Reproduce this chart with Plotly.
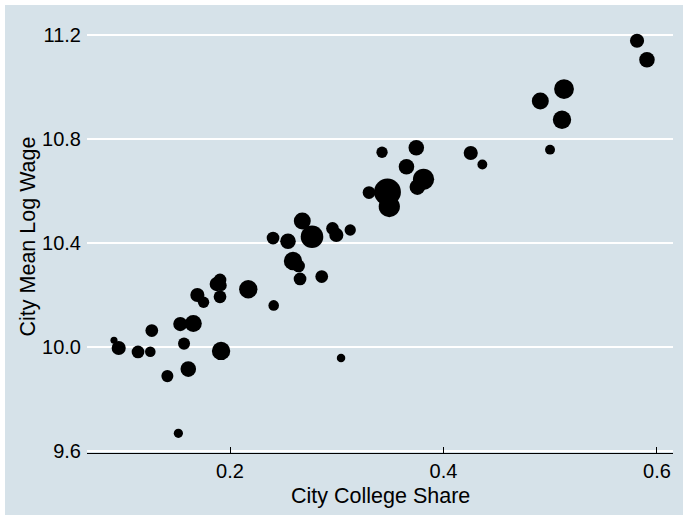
import plotly.graph_objects as go

# City-level averages: share of college-educated workers vs. mean log wage,
# marker area proportional to city population weight.
college_share = [
    0.0913, 0.0957, 0.1138, 0.1253, 0.1267, 0.1413, 0.1516, 0.1534,
    0.1656, 0.1569, 0.1609, 0.1916, 0.1694, 0.1752, 0.1906, 0.1906,
    0.1875, 0.1916, 0.2171, 0.2409, 0.2656, 0.2859, 0.2590, 0.2642,
    0.2403, 0.2543, 0.2768, 0.2677, 0.2960, 0.2996, 0.3126, 0.3040,
    0.3302, 0.3424, 0.3475, 0.3492, 0.3653, 0.3745, 0.3813, 0.3755,
    0.4255, 0.4364, 0.4998, 0.4907, 0.5110, 0.5129, 0.5813, 0.5906,
]
mean_log_wage = [
    10.026, 9.996, 9.981, 9.982, 10.063, 9.888, 9.668, 10.088,
    10.090, 10.013, 9.915, 9.985, 10.200, 10.172, 10.193, 10.258,
    10.242, 10.237, 10.222, 10.160, 10.262, 10.271, 10.331, 10.312,
    10.419, 10.407, 10.424, 10.485, 10.456, 10.431, 10.450, 9.958,
    10.594, 10.749, 10.596, 10.540, 10.693, 10.766, 10.645, 10.615,
    10.746, 10.702, 10.759, 10.946, 10.874, 10.992, 11.178, 11.105,
]
pop_weight = [
    1.00, 4.00, 3.24, 2.25, 3.24, 2.90, 1.70, 4.00,
    5.76, 2.90, 4.84, 6.76, 4.00, 2.56, 3.24, 3.24,
    4.00, 2.56, 6.76, 2.25, 3.24, 3.24, 6.76, 3.24,
    3.24, 4.84, 10.24, 5.76, 3.24, 4.00, 2.56, 1.44,
    3.24, 2.56, 14.44, 9.00, 4.84, 4.84, 9.00, 4.84,
    4.00, 1.96, 1.96, 5.76, 6.76, 7.84, 4.00, 4.84,
]

x_ticks = [0.2, 0.4, 0.6]
x_tick_labels = ["0.2", "0.4", "0.6"]
y_ticks = [9.6, 10.0, 10.4, 10.8, 11.2]
y_tick_labels = ["9.6", "10.0", "10.4", "10.8", "11.2"]

BG = "rgb(214,226,233)"
FONT = "Liberation Sans, Arial, Helvetica, sans-serif"

fig = go.Figure(
    go.Scatter(
        x=college_share,
        y=mean_log_wage,
        mode="markers",
        marker=dict(
            size=pop_weight,
            sizemode="area",
            sizeref=0.04,
            color="black",
            line=dict(width=0),
            opacity=1,
        ),
        hoverinfo="x+y",
    )
)

W, H = 683, 515
ml, mr, mt, mb = 87, 10, 20, 62
pw, ph = W - ml - mr, H - mt - mb

# Graph region fill with a thin white border along the top and left edges
fig.add_shape(
    type="rect", xref="paper", yref="paper",
    x0=-(ml - 5) / pw, x1=1 + (mr + 20) / pw,
    y0=-(mb + 20) / ph, y1=1 + (mt - 5) / ph,
    fillcolor=BG, line=dict(width=0), layer="below",
)

# x-axis title sits tight under the tick labels
fig.add_annotation(
    text="City College Share",
    xref="paper", yref="paper",
    x=0.5, y=-(496 - (H - mb)) / ph,
    xanchor="center", yanchor="middle",
    showarrow=False,
    borderpad=0,
    font=dict(size=21.5, color="black"),
)

fig.update_layout(
    width=W,
    height=H,
    margin=dict(l=ml, r=mr, t=mt, b=mb, pad=0),
    paper_bgcolor="white",
    plot_bgcolor=BG,
    showlegend=False,
    font=dict(family=FONT, size=21, color="black"),
)

fig.update_xaxes(
    range=[0.066, 0.615],
    tickvals=x_ticks,
    ticktext=x_tick_labels,
    ticks="inside",
    ticklen=6,
    tickwidth=1,
    tickcolor="black",
    showline=True,
    linecolor="black",
    linewidth=1.2,
    showgrid=False,
    zeroline=False,
    tickfont=dict(size=20),
    ticklabelstandoff=0,
    automargin=False,
)

fig.update_yaxes(
    range=[9.6 - 2 / 260, 9.6 + 431 / 260],
    tickvals=y_ticks,
    ticktext=y_tick_labels,
    ticks="",
    showline=False,
    showgrid=True,
    gridcolor="white",
    gridwidth=2,
    zeroline=False,
    tickfont=dict(size=20),
    ticklabelstandoff=5,
    title=dict(text="City Mean Log Wage", font=dict(size=21.5), standoff=0),
    automargin=False,
)

fig.write_html("out.html")
